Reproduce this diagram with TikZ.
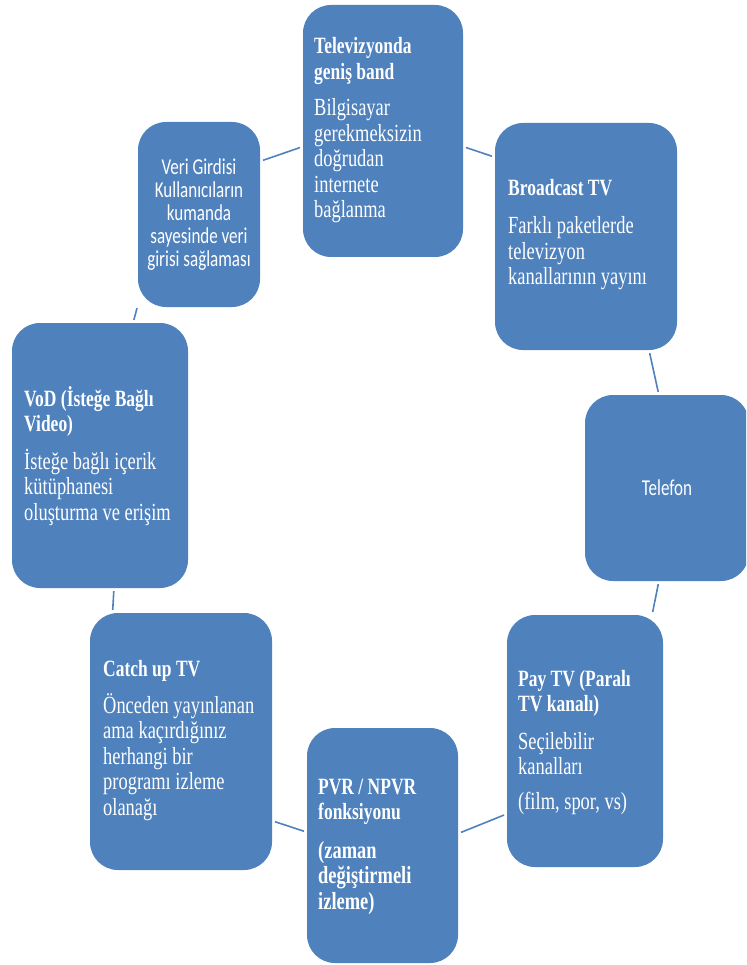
\documentclass[tikz,border=0pt]{standalone}
\usepackage{fontspec}
\setmainfont{Liberation Serif}[FakeStretch=0.75]
\newfontfamily\calfont{Carlito}[FakeStretch=0.75]
\definecolor{cardblue}{RGB}{79,129,189}
\definecolor{linkblue}{RGB}{79,129,189}
\newcommand\ttlfont{\fontsize{23.3}{25.5}\selectfont\bfseries}
\newcommand\bodyfont{\fontsize{24.6}{25.5}\selectfont}
\newcommand\sansfont{\calfont\fontsize{22.7}{23}\selectfont}
\newcommand\stack[1]{\begin{tabular}[t]{@{}l@{}}#1\end{tabular}}
\tikzset{
  card/.style={fill=cardblue, draw=none, rounded corners=28pt, inner sep=0pt},
  ttl/.style={anchor=base west, inner sep=0pt, text=white, font=\ttlfont},
  body/.style={anchor=base west, inner sep=0pt, text=white, font=\bodyfont},
  link/.style={draw=linkblue, line width=1.6pt, shorten <=3pt, shorten >=3pt}
}
\begin{document}
\begin{tikzpicture}[x=1pt,y=-1pt]
\useasboundingbox (0,0) rectangle (746,965);
\begin{scope}
\clip (0,0) rectangle (746,965);

% cards of the cycle
\node[card, minimum width=160pt, minimum height=252pt] (tvband) at (383,131) {};
\node[card, minimum width=182pt, minimum height=227pt] (bcast) at (586,236.5) {};
\node[card, minimum width=164pt, minimum height=186pt, text=white, font=\sansfont] (tel) at (667,488) {Telefon};
\node[card, minimum width=156pt, minimum height=252pt] (pay) at (585,741) {};
\node[card, minimum width=151pt, minimum height=235pt] (pvr) at (382.5,845.5) {};
\node[card, minimum width=182pt, minimum height=257pt] (catch) at (181,741.5) {};
\node[card, minimum width=176pt, minimum height=265pt] (vod) at (100,455.5) {};
\node[card, minimum width=122pt, minimum height=185pt, text=white, font=\sansfont, align=center] (veri) at (199,214.5)
  {Veri Girdisi\\Kullanıcıların\\kumanda\\sayesinde veri\\girisi sağlaması};
\end{scope}

% card texts
\node[ttl] (tvband-t) at (314,54) {\stack{Televizyonda\\geniş band}};
\node[body] (tvband-b) at (314,116) {\stack{Bilgisayar\\gerekmeksizin\\doğrudan\\internete\\bağlanma}};

\node[ttl] (bcast-t) at (508,196) {Broadcast TV};
\node[body] (bcast-b) at (508,234) {\stack{Farklı paketlerde\\televizyon\\kanallarının yayını}};

\node[ttl] (pay-t) at (518,686) {\stack{Pay TV (Paralı\\TV kanalı)}};
\node[body] (pay-b) at (518,749) {\stack{Seçilebilir\\kanalları}};
\node[body] (pay-c) at (518,809) {(film, spor, vs)};

\node[ttl] (pvr-t) at (318,794) {\stack{PVR / NPVR\\fonksiyonu}};
\node[ttl, font=\bodyfont\bfseries] (pvr-b) at (318,858) {\stack{(zaman\\değiştirmeli\\izleme)}};

\node[ttl] (catch-t) at (103,676) {Catch up TV};
\node[body] (catch-b) at (103,713) {\stack{Önceden yayınlanan\\ama kaçırdığınız\\herhangi bir\\programı izleme\\olanağı}};

\node[ttl] (vod-t) at (24,406) {\stack{VoD (İsteğe Bağlı\\Video)}};
\node[body] (vod-b) at (24,469) {\stack{İsteğe bağlı içerik\\kütüphanesi\\oluşturma ve erişim}};

% short links between neighbouring cards
\draw[link] (veri.41) -- (tvband.-169);
\draw[link] (tvband.-11) -- (bcast.139);
\draw[link] (bcast.-61) -- (tel.95);
\draw[link] (tel.265) -- (pay.62);
\draw[link] (pay.223) -- (pvr.9);
\draw[link] (pvr.170) -- (catch.-41);
\draw[link] (catch.118) -- (vod.-84);
\draw[link] (vod.76) -- (veri.-124);
\end{tikzpicture}
\end{document}
